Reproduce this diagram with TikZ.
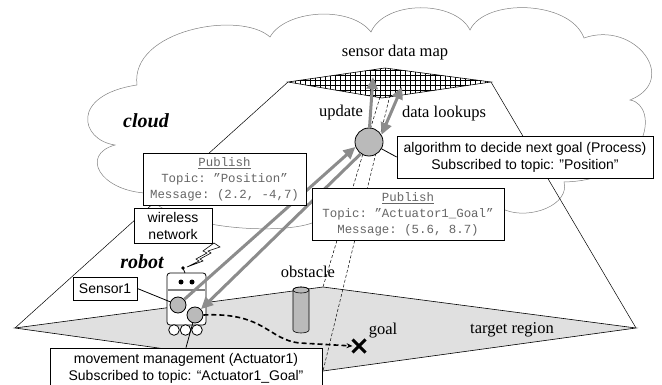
\documentclass[tikz,border=0pt]{standalone}
\usepackage{fontspec}
\setmainfont{Liberation Serif}
\setsansfont{Liberation Sans}
\setmonofont{Liberation Mono}
\usetikzlibrary{arrows.meta,shapes.misc}

\begin{document}
\begin{tikzpicture}[x=1pt, y=-1pt,
  lbl/.style={font=\fontsize{16.5}{19}\selectfont},
  title/.style={font=\fontsize{20}{22}\selectfont\bfseries\itshape},
  box/.style={draw, fill=white, line width=0.8pt, inner sep=0pt, align=center, font=\sffamily\fontsize{14}{17}\selectfont},
  pub/.style={box, text=black!60, font=\ttfamily\fontsize{12.4}{16}\selectfont},
  proc/.style={circle, draw, line width=0.8pt, fill=black!27, inner sep=0pt},
  wheel/.style={circle, draw, fill=white, line width=0.8pt, minimum size=10.6pt, inner sep=0pt},
  flow/.style={draw=black!45, line width=3pt, -{Triangle[length=12pt,width=11pt]}},
  edge/.style={line width=0.5pt},
  hidden/.style={line width=0.5pt, dash pattern=on 3pt off 2pt}]

\useasboundingbox (0,0) rectangle (662,385);

% cloud outline
\draw[black!50, line width=0.5pt]
  (137,85) .. controls (130,30) and (240,10) .. (270,37)
  .. controls (285,10) and (350,5) .. (371,32)
  .. controls (385,0) and (455,0) .. (470,30)
  .. controls (485,-2) and (570,0) .. (584,38)
  .. controls (635,20) and (680,80) .. (630,100)
  .. controls (660,105) and (650,180) .. (564,182)
  .. controls (570,205) and (530,220) .. (505,210)
  .. controls (480,240) and (340,242) .. (312,223)
  .. controls (280,235) and (170,230) .. (145,193)
  .. controls (100,190) and (80,155) .. (115,145)
  .. controls (80,140) and (70,95) .. (137,85);

\coordinate (mapL) at (288,82);
\coordinate (mapT) at (385,68);
\coordinate (mapR) at (491,82);
\coordinate (mapB) at (382,98);
\coordinate (mapB1) at (380,97);
\coordinate (mapB2) at (390,95);
\coordinate (mapup) at (373,77);
\coordinate (maplook) at (402,87);
\coordinate (tgtL) at (15,328);
\coordinate (tgtT) at (323,287);
\coordinate (tgtR) at (636,328);
\coordinate (tgtB) at (323,371);

% target region and side edges
\filldraw[fill=black!12, line width=0.6pt] (tgtL) -- (tgtT) -- (tgtR) -- (tgtB) -- cycle;
\draw[edge] (mapL) -- (tgtL);
\draw[edge] (mapR) -- (tgtR);
\draw[hidden] (mapB1) -- (tgtT);
\draw[hidden] (mapB2) -- (tgtB);

% sensor data map
\begin{scope}
  \clip (mapL) -- (mapT) -- (mapR) -- (mapB) -- cycle;
  \draw[line width=0.35pt, step=5pt] (280,100) grid (500,60);
\end{scope}
\draw[line width=0.6pt] (mapL) -- (mapT) -- (mapR) -- (mapB) -- cycle;

\node[lbl] (maplbl) at (395,53) {sensor data map};
\node[lbl] (updlbl) at (341,113) {update};
\node[lbl] (looklbl) at (444,114) {data lookups};
\node[title] (cloudlbl) at (146,121) {cloud};
\node[title] (robotlbl) at (142,262) {robot};
\node[lbl] (obstlbl) at (308,272) {obstacle};
\node[lbl] (goallbl) at (383,331) {goal};
\node[lbl] (tgtlbl) at (512,330) {target region};

% obstacle
\filldraw[fill=black!27, line width=0.6pt] (293,290) -- (293,330)
  arc[start angle=180, end angle=360, x radius=8pt, y radius=3pt] -- (309,290)
  arc[start angle=0, end angle=180, x radius=8pt, y radius=3pt] -- cycle;
\draw[line width=0.6pt] (301,290) ellipse[x radius=8pt, y radius=3pt];

% robot
\draw[line width=0.8pt, fill=white, rounded corners=3pt] (167,273) rectangle (206,325);
\draw[black!50, line width=1.5pt] (168,290) -- (205,290);
\fill (181,282) circle[radius=2.5pt];
\fill (192,282) circle[radius=2.5pt];
\draw[line width=0.8pt] (185,273) -- (183,268);
\fill (183,268) circle[radius=1.8pt];
\draw[line width=0.6pt, fill=white] (214,243) -- (203,251) -- (207,253) -- (196,259) -- (199,261)
  -- (187,267) -- (203,261) -- (200,259) -- (211,253) -- (208,251) -- (220,247) -- cycle;
\node[wheel] (w1) at (174,330) {};
\node[wheel] (w2) at (185.5,330) {};
\node[wheel] (w3) at (197,330) {};
\node[proc, minimum size=16pt] (sensor) at (178,305) {};
\node[proc, minimum size=16pt] (actuator) at (195,315) {};

\node[proc, minimum size=28pt] (algo) at (369,142) {};

\draw[flow] (sensor) -- (algo.200);
\draw[flow] (algo.235) -- (actuator);
\draw[flow] (algo.88) -- (mapup);
\draw[flow, {Triangle[length=12pt,width=11pt]}-{Triangle[length=12pt,width=11pt]}] (algo.30) -- (maplook);

\node[draw, cross out, line width=3pt, minimum size=10pt, inner sep=0pt] (goalx) at (359,346) {};
\draw[line width=1.6pt, dash pattern=on 5pt off 3pt, -{Stealth[length=6pt,width=5pt]}]
  (actuator.east) .. controls (265,312) and (268,340) .. (300,343) -- (goalx.west);

\node[pub, minimum width=163pt, minimum height=52pt] (pubpos) at (224.5,179)
  {\underline{Publish}\\Topic: ”Position”\\Message: (2.2, -4,7)};
\node[pub, minimum width=192pt, minimum height=52pt] (pubgoal) at (408,214)
  {\underline{Publish}\\Topic: ”Actuator1\_Goal”\\Message: (5.6, 8.7)};
\node[box, minimum width=256pt, minimum height=42pt] (algbox) at (525,157)
  {algorithm to decide next goal (Process)\\Subscribed to topic: ”Position”};
\node[box, minimum width=78pt, minimum height=35pt] (wireless) at (173,225.5) {wireless\\network};
\node[box, minimum width=64pt, minimum height=23pt] (sensbox) at (105,288.5) {Sensor1};
\node[box, minimum width=272pt, minimum height=41pt] (movebox) at (186,368.5)
  {movement management (Actuator1)\\Subscribed to topic: “Actuator1\_Goal”};

\draw[line width=0.8pt] (algo) -- (algbox.west);
\draw[line width=0.8pt] (sensbox.east) -- (sensor);
\draw[line width=0.8pt] (actuator) -- (movebox.north);
\end{tikzpicture}
\end{document}
